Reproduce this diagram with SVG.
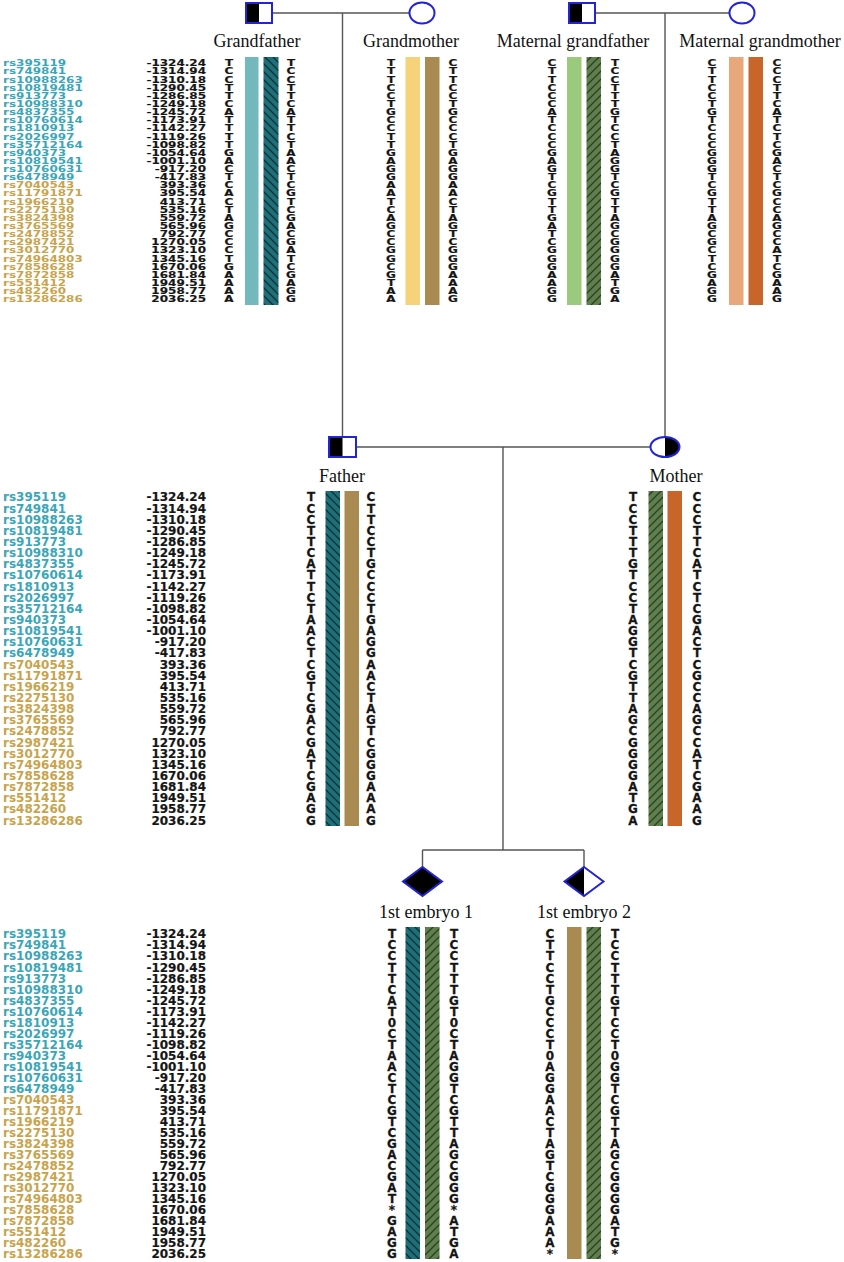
<svg xmlns="http://www.w3.org/2000/svg" xmlns:xlink="http://www.w3.org/1999/xlink" width="844" height="1262" viewBox="0 0 844 1262">
<style>
.b{font-family:"DejaVu Sans",sans-serif;font-weight:bold;font-size:12px;fill:#151515;text-anchor:middle;stroke:#151515;stroke-width:0.25}
.n{font-family:"DejaVu Sans",sans-serif;font-weight:bold;font-size:12px;fill:#151515;text-anchor:end;stroke:#151515;stroke-width:0.2}
.r1{font-family:"DejaVu Sans",sans-serif;font-weight:bold;font-size:12px;fill:#3aa6b7}
.r2{font-family:"DejaVu Sans",sans-serif;font-weight:bold;font-size:12px;fill:#c9a34c}
.lab{font-family:"Liberation Serif",serif;font-size:18px;fill:#111;text-anchor:middle}
.ln{stroke:#555;stroke-width:1.4;fill:none}
.sym{stroke:#2323d8;stroke-width:2}
</style>
<defs>
<pattern id="ht" patternUnits="userSpaceOnUse" width="8" height="8"><rect width="8" height="8" fill="#1d7079"/><path d="M-1,-1 L9,9 M-1,7 L1,9 M7,-1 L9,1" stroke="#0a3034" stroke-width="1.3"/></pattern>
<pattern id="hg" patternUnits="userSpaceOnUse" width="8" height="8"><rect width="8" height="8" fill="#5f7f4d"/><path d="M-1,9 L9,-1 M-1,1 L1,-1 M7,9 L9,7" stroke="#2a4024" stroke-width="1.3"/></pattern>
<g id="snps">
<text class="r1"><tspan x="3" y="4.4">rs395119</tspan><tspan x="3" y="15.4">rs749841</tspan><tspan x="3" y="26.4">rs10988263</tspan><tspan x="3" y="37.4">rs10819481</tspan><tspan x="3" y="48.4">rs913773</tspan><tspan x="3" y="59.4">rs10988310</tspan><tspan x="3" y="70.4">rs4837355</tspan><tspan x="3" y="81.4">rs10760614</tspan><tspan x="3" y="92.4">rs1810913</tspan><tspan x="3" y="103.4">rs2026997</tspan><tspan x="3" y="114.4">rs35712164</tspan><tspan x="3" y="125.4">rs940373</tspan><tspan x="3" y="136.4">rs10819541</tspan><tspan x="3" y="147.4">rs10760631</tspan><tspan x="3" y="158.4">rs6478949</tspan></text>
<text class="r2"><tspan x="3" y="169.4">rs7040543</tspan><tspan x="3" y="180.4">rs11791871</tspan><tspan x="3" y="191.4">rs1966219</tspan><tspan x="3" y="202.4">rs2275130</tspan><tspan x="3" y="213.4">rs3824398</tspan><tspan x="3" y="224.4">rs3765569</tspan><tspan x="3" y="235.4">rs2478852</tspan><tspan x="3" y="246.4">rs2987421</tspan><tspan x="3" y="257.4">rs3012770</tspan><tspan x="3" y="268.4">rs74964803</tspan><tspan x="3" y="279.4">rs7858628</tspan><tspan x="3" y="290.4">rs7872858</tspan><tspan x="3" y="301.4">rs551412</tspan><tspan x="3" y="312.4">rs482260</tspan><tspan x="3" y="323.4">rs13286286</tspan></text>
<text class="n"><tspan x="206" y="4.4">-1324.24</tspan><tspan x="206" y="15.4">-1314.94</tspan><tspan x="206" y="26.4">-1310.18</tspan><tspan x="206" y="37.4">-1290.45</tspan><tspan x="206" y="48.4">-1286.85</tspan><tspan x="206" y="59.4">-1249.18</tspan><tspan x="206" y="70.4">-1245.72</tspan><tspan x="206" y="81.4">-1173.91</tspan><tspan x="206" y="92.4">-1142.27</tspan><tspan x="206" y="103.4">-1119.26</tspan><tspan x="206" y="114.4">-1098.82</tspan><tspan x="206" y="125.4">-1054.64</tspan><tspan x="206" y="136.4">-1001.10</tspan><tspan x="206" y="147.4">-917.20</tspan><tspan x="206" y="158.4">-417.83</tspan><tspan x="206" y="169.4">393.36</tspan><tspan x="206" y="180.4">395.54</tspan><tspan x="206" y="191.4">413.71</tspan><tspan x="206" y="202.4">535.16</tspan><tspan x="206" y="213.4">559.72</tspan><tspan x="206" y="224.4">565.96</tspan><tspan x="206" y="235.4">792.77</tspan><tspan x="206" y="246.4">1270.05</tspan><tspan x="206" y="257.4">1323.10</tspan><tspan x="206" y="268.4">1345.16</tspan><tspan x="206" y="279.4">1670.06</tspan><tspan x="206" y="290.4">1681.84</tspan><tspan x="206" y="301.4">1949.51</tspan><tspan x="206" y="312.4">1958.77</tspan><tspan x="206" y="323.4">2036.25</tspan></text>
</g>
</defs>
<rect width="844" height="1262" fill="#ffffff"/>

<g id="connectors">
<path class="ln" d="M272,13 H409.5 M342.5,13 V437 M595,13 H729.5 M665,13 V437 M356,447 H650.5 M503,447 V850 M422.5,850 H584 M422.5,850 V867 M584,850 V867"/>
</g>

<g id="snp-table-top"><use xlink:href="#snps" transform="translate(0,63) scale(1,0.74)"/></g>
<g id="snp-table-middle"><use xlink:href="#snps" transform="translate(0,497) scale(1,1.0127)"/></g>
<g id="snp-table-bottom"><use xlink:href="#snps" transform="translate(0,934) scale(1,1.003)"/></g>

<g id="grandfather">
<rect x="246" y="3" width="26" height="20" fill="#fff" class="sym"/>
<rect x="246" y="3" width="13" height="20" fill="#000"/>
<rect x="246" y="3" width="26" height="20" fill="none" class="sym"/>
<text class="lab" x="257" y="47">Grandfather</text>
<rect x="245" y="57" width="13.5" height="248" fill="#72b8bd"/>
<rect x="263.5" y="57" width="15" height="248" fill="url(#ht)"/>
<text class="b" transform="translate(229,63) scale(1,0.74)" x="0 0 0 0 0 0 0 0 0 0 0 0 0 0 0 0 0 0 0 0 0 0 0 0 0 0 0 0 0 0" y="4.4 15.4 26.4 37.4 48.4 59.4 70.4 81.4 92.4 103.4 114.4 125.4 136.4 147.4 158.4 169.4 180.4 191.4 202.4 213.4 224.4 235.4 246.4 257.4 268.4 279.4 290.4 301.4 312.4 323.4">TCCTTCATTTTGACTCACTAGCCCTGAAAA</text>
<text class="b" transform="translate(291,63) scale(1,0.74)" x="0 0 0 0 0 0 0 0 0 0 0 0 0 0 0 0 0 0 0 0 0 0 0 0 0 0 0 0 0 0" y="4.4 15.4 26.4 37.4 48.4 59.4 70.4 81.4 92.4 103.4 114.4 125.4 136.4 147.4 158.4 169.4 180.4 191.4 202.4 213.4 224.4 235.4 246.4 257.4 268.4 279.4 290.4 301.4 312.4 323.4">TCCTTCATTCTAACTCGTCGACGATCGAGG</text>
</g>

<g id="grandmother">
<ellipse cx="422" cy="13" rx="12.5" ry="10.5" fill="#fff" class="sym"/>
<text class="lab" x="411" y="47">Grandmother</text>
<rect x="405.5" y="57" width="14.5" height="248" fill="#f6d27b"/>
<rect x="425" y="57" width="14.5" height="248" fill="#a98b52"/>
<text class="b" transform="translate(391,63) scale(1,0.74)" x="0 0 0 0 0 0 0 0 0 0 0 0 0 0 0 0 0 0 0 0 0 0 0 0 0 0 0 0 0 0" y="4.4 15.4 26.4 37.4 48.4 59.4 70.4 81.4 92.4 103.4 114.4 125.4 136.4 147.4 158.4 169.4 180.4 191.4 202.4 213.4 224.4 235.4 246.4 257.4 268.4 279.4 290.4 301.4 312.4 323.4">TTTCCTGCCTTGAGGAATCAGCCGGCGTAA</text>
<text class="b" transform="translate(453,63) scale(1,0.74)" x="0 0 0 0 0 0 0 0 0 0 0 0 0 0 0 0 0 0 0 0 0 0 0 0 0 0 0 0 0 0" y="4.4 15.4 26.4 37.4 48.4 59.4 70.4 81.4 92.4 103.4 114.4 125.4 136.4 147.4 158.4 169.4 180.4 191.4 202.4 213.4 224.4 235.4 246.4 257.4 268.4 279.4 290.4 301.4 312.4 323.4">CTTCCTGCCCTGAGGAACTAGTCGGGAAAG</text>
</g>

<g id="maternal-grandfather">
<rect x="569" y="3" width="26" height="20" fill="#fff" class="sym"/>
<rect x="569" y="3" width="13" height="20" fill="#000"/>
<rect x="569" y="3" width="26" height="20" fill="none" class="sym"/>
<text class="lab" x="573" y="47">Maternal grandfather</text>
<rect x="567" y="57" width="14.5" height="248" fill="#9bca7e"/>
<rect x="586.5" y="57" width="14.5" height="248" fill="url(#hg)"/>
<text class="b" transform="translate(552,63) scale(1,0.74)" x="0 0 0 0 0 0 0 0 0 0 0 0 0 0 0 0 0 0 0 0 0 0 0 0 0 0 0 0 0 0" y="4.4 15.4 26.4 37.4 48.4 59.4 70.4 81.4 92.4 103.4 114.4 125.4 136.4 147.4 158.4 169.4 180.4 191.4 202.4 213.4 224.4 235.4 246.4 257.4 268.4 279.4 290.4 301.4 312.4 323.4">CTTCCCATCCCGAGTCGTTGATCGGGAAGG</text>
<text class="b" transform="translate(615,63) scale(1,0.74)" x="0 0 0 0 0 0 0 0 0 0 0 0 0 0 0 0 0 0 0 0 0 0 0 0 0 0 0 0 0 0" y="4.4 15.4 26.4 37.4 48.4 59.4 70.4 81.4 92.4 103.4 114.4 125.4 136.4 147.4 158.4 169.4 180.4 191.4 202.4 213.4 224.4 235.4 246.4 257.4 268.4 279.4 290.4 301.4 312.4 323.4">TCCTTTGTCCTAGGTCGTTAGCGGGGATGA</text>
</g>

<g id="maternal-grandmother">
<ellipse cx="742" cy="13" rx="12.5" ry="10.5" fill="#fff" class="sym"/>
<text class="lab" x="760" y="47">Maternal grandmother</text>
<rect x="729" y="57" width="14.5" height="248" fill="#e9a87b"/>
<rect x="748.5" y="57" width="14.5" height="248" fill="#c8652a"/>
<text class="b" transform="translate(712,63) scale(1,0.74)" x="0 0 0 0 0 0 0 0 0 0 0 0 0 0 0 0 0 0 0 0 0 0 0 0 0 0 0 0 0 0" y="4.4 15.4 26.4 37.4 48.4 59.4 70.4 81.4 92.4 103.4 114.4 125.4 136.4 147.4 158.4 169.4 180.4 191.4 202.4 213.4 224.4 235.4 246.4 257.4 268.4 279.4 290.4 301.4 312.4 323.4">CTTCCTGTCCCGGGTCGTTAGCGCTCGAGG</text>
<text class="b" transform="translate(777,63) scale(1,0.74)" x="0 0 0 0 0 0 0 0 0 0 0 0 0 0 0 0 0 0 0 0 0 0 0 0 0 0 0 0 0 0" y="4.4 15.4 26.4 37.4 48.4 59.4 70.4 81.4 92.4 103.4 114.4 125.4 136.4 147.4 158.4 169.4 180.4 191.4 202.4 213.4 224.4 235.4 246.4 257.4 268.4 279.4 290.4 301.4 312.4 323.4">CCCTTCATCTCGACTCGCCAGCCATCGAAG</text>
</g>

<g id="father">
<rect x="329" y="437" width="27" height="20" fill="#fff" class="sym"/>
<rect x="329" y="437" width="13.5" height="20" fill="#000"/>
<rect x="329" y="437" width="27" height="20" fill="none" class="sym"/>
<text class="lab" x="342" y="482">Father</text>
<rect x="325.5" y="491" width="14.5" height="335" fill="url(#ht)"/>
<rect x="344.5" y="491" width="14.5" height="335" fill="#a98b52"/>
<text class="b" transform="translate(311,497) scale(1,1.0127)" x="0 0 0 0 0 0 0 0 0 0 0 0 0 0 0 0 0 0 0 0 0 0 0 0 0 0 0 0 0 0" y="4.4 15.4 26.4 37.4 48.4 59.4 70.4 81.4 92.4 103.4 114.4 125.4 136.4 147.4 158.4 169.4 180.4 191.4 202.4 213.4 224.4 235.4 246.4 257.4 268.4 279.4 290.4 301.4 312.4 323.4">TCCTTCATTCTAACTCGTCGACGATCGAGG</text>
<text class="b" transform="translate(371,497) scale(1,1.0127)" x="0 0 0 0 0 0 0 0 0 0 0 0 0 0 0 0 0 0 0 0 0 0 0 0 0 0 0 0 0 0" y="4.4 15.4 26.4 37.4 48.4 59.4 70.4 81.4 92.4 103.4 114.4 125.4 136.4 147.4 158.4 169.4 180.4 191.4 202.4 213.4 224.4 235.4 246.4 257.4 268.4 279.4 290.4 301.4 312.4 323.4">CTTCCTGCCCTGAGGAACTAGTCGGGAAAG</text>
</g>

<g id="mother">
<ellipse cx="665" cy="447" rx="14.5" ry="10" fill="#fff"/>
<path d="M665,437 A14.5,10 0 0,1 665,457 Z" fill="#000"/>
<ellipse cx="665" cy="447" rx="14.5" ry="10" fill="none" class="sym"/>
<text class="lab" x="676" y="482">Mother</text>
<rect x="648.5" y="491" width="14.5" height="335" fill="url(#hg)"/>
<rect x="667.5" y="491" width="14.5" height="335" fill="#c8652a"/>
<text class="b" transform="translate(633,497) scale(1,1.0127)" x="0 0 0 0 0 0 0 0 0 0 0 0 0 0 0 0 0 0 0 0 0 0 0 0 0 0 0 0 0 0" y="4.4 15.4 26.4 37.4 48.4 59.4 70.4 81.4 92.4 103.4 114.4 125.4 136.4 147.4 158.4 169.4 180.4 191.4 202.4 213.4 224.4 235.4 246.4 257.4 268.4 279.4 290.4 301.4 312.4 323.4">TCCTTTGTCCTAGGTCGTTAGCGGGGATGA</text>
<text class="b" transform="translate(697,497) scale(1,1.0127)" x="0 0 0 0 0 0 0 0 0 0 0 0 0 0 0 0 0 0 0 0 0 0 0 0 0 0 0 0 0 0" y="4.4 15.4 26.4 37.4 48.4 59.4 70.4 81.4 92.4 103.4 114.4 125.4 136.4 147.4 158.4 169.4 180.4 191.4 202.4 213.4 224.4 235.4 246.4 257.4 268.4 279.4 290.4 301.4 312.4 323.4">CCCTTCATCTCGACTCGCCAGCCATCGAAG</text>
</g>

<g id="embryo-1">
<polygon points="422.5,867 442,881.5 422.5,896 403,881.5" fill="#000" class="sym"/>
<text class="lab" x="426" y="918">1st embryo 1</text>
<rect x="405.5" y="927" width="14.5" height="332" fill="url(#ht)"/>
<rect x="425" y="927" width="14.5" height="332" fill="url(#hg)"/>
<text class="b" transform="translate(392,934) scale(1,1.003)" x="0 0 0 0 0 0 0 0 0 0 0 0 0 0 0 0 0 0 0 0 0 0 0 0 0 0 0 0 0 0" y="4.4 15.4 26.4 37.4 48.4 59.4 70.4 81.4 92.4 103.4 114.4 125.4 136.4 147.4 158.4 169.4 180.4 191.4 202.4 213.4 224.4 235.4 246.4 257.4 268.4 279.4 290.4 301.4 312.4 323.4">TCCTTCAT0CTAACTCGTCGACGAT*GAGG</text>
<text class="b" transform="translate(454,934) scale(1,1.003)" x="0 0 0 0 0 0 0 0 0 0 0 0 0 0 0 0 0 0 0 0 0 0 0 0 0 0 0 0 0 0" y="4.4 15.4 26.4 37.4 48.4 59.4 70.4 81.4 92.4 103.4 114.4 125.4 136.4 147.4 158.4 169.4 180.4 191.4 202.4 213.4 224.4 235.4 246.4 257.4 268.4 279.4 290.4 301.4 312.4 323.4">TCCTTTGT0CTAGGTCGTTAGCGGG*ATGA</text>
</g>

<g id="embryo-2">
<polygon points="584,867 603.5,881.5 584,896" fill="#fff"/>
<polygon points="584,867 584,896 564.5,881.5" fill="#000"/>
<polygon points="584,867 603.5,881.5 584,896 564.5,881.5" fill="none" class="sym"/>
<text class="lab" x="584" y="918">1st embryo 2</text>
<rect x="567" y="927" width="14.5" height="332" fill="#a98b52"/>
<rect x="586.5" y="927" width="14.5" height="332" fill="url(#hg)"/>
<text class="b" transform="translate(550,934) scale(1,1.003)" x="0 0 0 0 0 0 0 0 0 0 0 0 0 0 0 0 0 0 0 0 0 0 0 0 0 0 0 0 0 0" y="4.4 15.4 26.4 37.4 48.4 59.4 70.4 81.4 92.4 103.4 114.4 125.4 136.4 147.4 158.4 169.4 180.4 191.4 202.4 213.4 224.4 235.4 246.4 257.4 268.4 279.4 290.4 301.4 312.4 323.4">CTTCCTGCCCT0AGGAACTAGTCGGGAAA*</text>
<text class="b" transform="translate(615,934) scale(1,1.003)" x="0 0 0 0 0 0 0 0 0 0 0 0 0 0 0 0 0 0 0 0 0 0 0 0 0 0 0 0 0 0" y="4.4 15.4 26.4 37.4 48.4 59.4 70.4 81.4 92.4 103.4 114.4 125.4 136.4 147.4 158.4 169.4 180.4 191.4 202.4 213.4 224.4 235.4 246.4 257.4 268.4 279.4 290.4 301.4 312.4 323.4">TCCTTTGTCCT0GGTCGTTAGCGGGGATG*</text>
</g>
</svg>
